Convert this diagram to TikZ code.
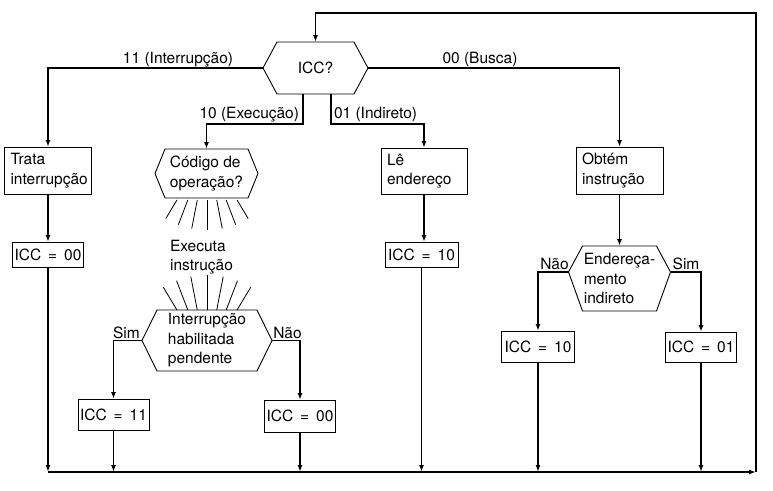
\documentclass[tikz,border=0pt]{standalone}
\usepackage{fontspec}
\setmainfont{TeX Gyre Heros}
\usetikzlibrary{arrows.meta}
\newcommand\hexshape[3]{\draw[shapeline] ([xshift=#2]#1.north west) -- ([xshift=-#2]#1.north east) -- ([yshift=#3]#1.east) -- ([xshift=-#2]#1.south east) -- ([xshift=#2]#1.south west) -- ([yshift=#3]#1.west) -- cycle;}
\begin{document}
\begin{tikzpicture}[x=1pt,y=-1pt,
  every node/.style={font=\fontsize{15.5}{19.5}\selectfont, inner sep=0pt, outer sep=0pt},
  box/.style={draw, line width=0.9pt, align=left, inner xsep=6pt, inner ysep=0pt},
  iccbox/.style={draw, line width=0.9pt, align=center, inner xsep=2pt, inner ysep=0pt,
    execute at begin node={\spaceskip=0.45em\relax}},
  hexnode/.style={align=left, inner sep=0pt},
  shapeline/.style={line width=0.9pt, line join=miter},
  conn/.style={line width=1.4pt},
  arr/.style={conn, -{Latex[length=7pt,width=5pt]}},
  ray/.style={line width=0.8pt},
  lbl/.style={anchor=base}
]
\useasboundingbox (0,0) rectangle (773,490);

% coordinates of the loop
\coordinate (bl) at (48,472);
\coordinate (br) at (756,472);
\coordinate (tr) at (756,13);

% decision ICC?
\node[hexnode, minimum width=105pt, minimum height=52pt] (icc) at (315.5,68) {ICC?};
\hexshape{icc}{14pt}{0pt}

% left branch
\node[box, text width=75pt, minimum height=47pt] (trata) at (48,170.5) {Trata\\interrupção};
\node[iccbox, minimum width=70pt, minimum height=25pt] (iccA) at (48,254.5) {ICC = 00};

% execution branch
\node[hexnode, minimum width=103pt, minimum height=49pt] (cod) at (206.5,173.5) {Código de\\operação?};
\hexshape{cod}{10pt}{0pt}
\node[align=left] (exe) at (201.5,257) {Executa\\instrução};
\node[hexnode, minimum width=130pt, minimum height=61pt] (intr) at (207,340.5) {Interrupção\\habilitada\\pendente};
\hexshape{intr}{15pt}{0pt}
\node[iccbox, minimum width=68pt, minimum height=31pt] (iccE) at (113.5,414.5) {ICC = 11};
\node[iccbox, minimum width=68pt, minimum height=32pt] (iccF) at (300,416) {ICC = 00};

% rays
\foreach \a in {-31,-21,-11,0,11,21,31} {
  \draw[ray] ({207+50*tan(\a)},200) -- ({207+80*sin(\a)},{150+80*cos(\a)});
  \draw[ray] ({207+50*tan(\a)},310) -- ({207+85*sin(\a)},{360-85*cos(\a)});
}

% indirect branch
\node[box, text width=74pt, minimum height=46pt] (le) at (424,171) {Lê\\endereço};
\node[iccbox, minimum width=73pt, minimum height=25pt] (iccB) at (421.5,254.5) {ICC = 10};

% fetch branch
\node[box, text width=75pt, minimum height=47pt] (obt) at (619.5,170.5) {Obtém\\instrução};
\node[hexnode, minimum width=102pt, minimum height=65pt] (enda) at (619.5,278.5) {Endereça-\\mento\\indireto};
\hexshape{enda}{14pt}{6.5pt}
\node[iccbox, minimum width=73pt, minimum height=31pt] (iccC) at (538,346.5) {ICC = 10};
\node[iccbox, minimum width=68pt, minimum height=30pt] (iccD) at (701,347) {ICC = 01};

% labels
\node[lbl] (l11) at (178,63.5) {11 (Interrupção)};
\node[lbl] (l00) at (480,63.5) {00 (Busca)};
\node[anchor=base east] (l10) at (299,118) {10 (Execução)};
\node[anchor=base west] (l01) at (334,118) {01 (Indireto)};
\node[lbl] (lsim1) at (126.5,338) {Sim};
\node[lbl] (lnao1) at (287.5,338) {Não};
\node[lbl] (lnao2) at (554.5,269) {Não};
\node[lbl] (lsim2) at (686,269) {Sim};

% connectors
\draw[arr] (bl) -- (br);
\draw[arr] (br) -- (tr) -| (icc.north);
\draw[arr] (icc.west) -| (trata.north);
\draw[arr] (icc.east) -| (obt.north);
\draw[arr] ([xshift=-12.5pt]icc.south) -- ++(0,30) -| (cod.north);
\draw[arr] ([xshift=15.5pt]icc.south) -- ++(0,30) -| (le.north);

\draw[arr] (trata.south) -- (iccA.north);
\draw[arr] (iccA.south) -- (bl);

\draw[arr] (intr.west) -| (iccE.north);
\draw[arr] (intr.east) -| (iccF.north);
\draw[arr] (iccE.south) -- (iccE.south |- bl);
\draw[arr] (iccF.south) -- (iccF.south |- bl);

\draw[arr] (le.south) -- (le.south |- iccB.north);
\draw[arr] (iccB.south) -- (iccB.south |- bl);

\draw[arr] (obt.south) -- (enda.north);
\draw[arr] ([yshift=6.5pt]enda.west) -| (iccC.north);
\draw[arr] ([yshift=6.5pt]enda.east) -| (iccD.north);
\draw[arr] (iccC.south) -- (iccC.south |- bl);
\draw[arr] (iccD.south) -- (iccD.south |- bl);
\end{tikzpicture}
\end{document}
